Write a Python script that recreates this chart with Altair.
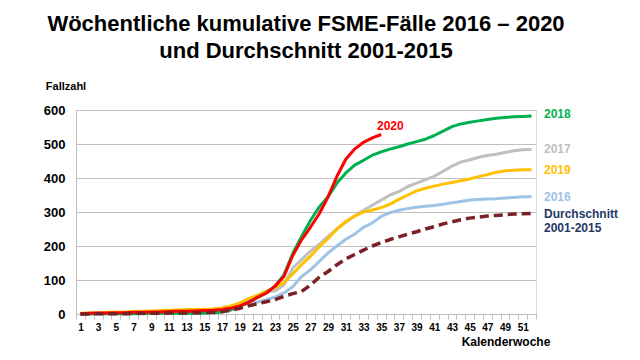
import altair as alt
import pandas as pd

weeks = list(range(1, 53))

s2016 = [1, 1, 2, 2, 3, 3, 4, 5, 5, 6, 7, 7, 8, 8, 9, 10, 12, 18, 24, 30,
         35, 42, 50, 62, 80, 110, 130, 155, 180, 200, 220, 235, 255, 268, 287, 298,
         305, 310, 314, 317, 319, 323, 327, 331, 335, 337, 338, 339, 341, 343, 345, 345]
s2017 = [1, 2, 2, 3, 3, 4, 5, 6, 6, 7, 8, 9, 10, 11, 12, 13, 16, 22, 30, 42,
         55, 65, 68, 85, 135, 160, 185, 205, 228, 250, 270, 288, 305, 320, 335, 350,
         360, 375, 385, 395, 405, 420, 435, 447, 453, 461, 466, 470, 475, 480, 483, 484]
s2018 = [0, 0, 1, 1, 1, 1, 1, 1, 2, 2, 2, 2, 2, 2, 3, 4, 6, 12, 22, 35,
         48, 62, 82, 115, 178, 228, 275, 315, 345, 385, 415, 438, 452, 467, 477, 485,
         492, 500, 507, 514, 525, 538, 551, 559, 564, 568, 572, 576, 578, 580, 581, 582]
s2019 = [2, 3, 4, 5, 5, 6, 7, 8, 9, 10, 11, 12, 13, 13, 14, 15, 18, 24, 32, 45,
         55, 67, 78, 92, 118, 145, 170, 198, 222, 250, 272, 288, 300, 306, 313, 323,
         337, 350, 362, 370, 376, 382, 387, 392, 397, 404, 410, 417, 421, 423, 424, 424]
s2020 = [1, 2, 3, 3, 4, 4, 5, 5, 6, 6, 7, 8, 8, 9, 10, 11, 13, 17, 24, 34,
         49, 61, 82, 110, 172, 218, 255, 295, 345, 405, 455, 485, 505, 518, 528]
avg = [0, 0, 1, 1, 1, 1, 2, 2, 2, 2, 3, 3, 3, 4, 4, 5, 7, 11, 17, 24,
       30, 36, 42, 52, 60, 66, 85, 108, 125, 145, 162, 175, 188, 200, 210, 219,
       227, 235, 242, 250, 257, 265, 271, 277, 282, 285, 288, 290, 292, 294, 295, 296]

W = 460
H = 204
BAND = W / 52
FONT = "Liberation Sans"

tick_vals = [i + 0.5 for i in range(0, 53)]
label_expr = ("((datum.value + 0.5) % 2 == 1 && datum.value < 52) "
              "? format(datum.value + 0.5, 'd') : ''")

X = alt.X("week:Q",
          scale=alt.Scale(domain=[0.5, 52.5], nice=False, zero=False),
          axis=alt.Axis(values=tick_vals, labelExpr=label_expr, labelOffset=BAND / 2,
                        grid=False, title=None, labelOverlap=False, labelFlush=False,
                        labelBound=False, tickSize=5, tickColor="#BFBFBF",
                        domainColor="#BFBFBF", labelFontSize=10, labelFontWeight="bold",
                        labelColor="#000000", labelPadding=3, labelFont=FONT))
Y = alt.Y("value:Q",
          scale=alt.Scale(domain=[0, 600], nice=False),
          axis=alt.Axis(values=[0, 100, 200, 300, 400, 500, 600], grid=True,
                        gridColor="#BFBFBF", gridWidth=1, ticks=False, title=None,
                        domainColor="#BFBFBF", labelFontSize=13, labelFontWeight="bold",
                        labelColor="#000000", labelPadding=11, labelFont=FONT))


def series(vals, color, dash=None):
    df = pd.DataFrame({"week": weeks[:len(vals)], "value": vals})
    kw = dict(color=color, strokeWidth=3, strokeJoin="round")
    if dash:
        kw["strokeDash"] = dash
        kw["strokeWidth"] = 3.5
    return alt.Chart(df).mark_line(**kw).encode(x=X, y=Y)


def label(text, color, px, py, size=12, align="left"):
    return alt.Chart(pd.DataFrame({"t": [text]})).mark_text(
        text=text, color=color, font=FONT, fontSize=size, fontWeight="bold",
        align=align, baseline="middle"
    ).encode(x=alt.value(px), y=alt.value(py))


layers = [
    series(s2016, "#9DC3E6"),
    series(s2017, "#BFBFBF"),
    series(s2019, "#FFC000"),
    series(s2018, "#00B050"),
    series(s2020, "#FF0000"),
    series(avg, "#7B2125", dash=[9, 5]),
    label("2018", "#00B050", 468, 4),
    label("2020", "#FF0000", 301, 16),
    label("2017", "#BFBFBF", 468, 39),
    label("2019", "#FFC000", 468, 60),
    label("2016", "#9DC3E6", 468, 87),
    label("Durchschnitt", "#1F3864", 468, 104),
    label("2001-2015", "#1F3864", 468, 118),
    label("Fallzahl", "#000000", -10, -23, size=11, align="center"),
    label("Kalenderwoche", "#000000", 430, 232, size=12, align="center"),
]

chart = alt.layer(*layers).properties(
    width=W, height=H,
    autosize=alt.AutoSizeParams(type="none"),
    padding={"left": 68, "top": 102, "right": 96, "bottom": 38},
    title=alt.TitleParams(
        text=["Wöchentliche kumulative FSME-Fälle 2016 – 2020", "und Durchschnitt 2001-2015"],
        font=FONT, fontSize=22, fontWeight="bold", color="#000000",
        anchor="middle", offset=18, lineHeight=27),
).configure_view(stroke=None).configure(font=FONT)

chart.save("out.html", embed_options={"renderer": "svg", "actions": False})
